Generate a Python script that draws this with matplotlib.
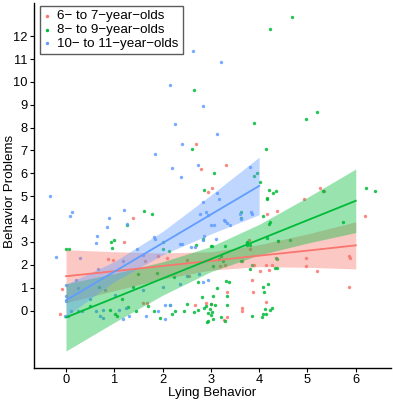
import numpy as np
import matplotlib.pyplot as plt

plt.rcParams['font.family'] = ['Liberation Sans', 'DejaVu Sans']

########## Data ##########
groups = ["6\u2212 to 7\u2212year\u2212olds", "8\u2212 to 9\u2212year\u2212olds", "10\u2212 to 11\u2212year\u2212olds"]
colors = ["#F8766D", "#00BA38", "#619CFF"]

# 6- to 7-year-olds (lying, problems)
red_x = [2.69, 3.31, 2.79, 3.02, 2.95, 5.25, 4.93, 5.35, 1.39, 1.21, 0.86, 0.98, 1.64, -0.09, -0.12,
         1.60, 1.67, 4.98, 4.96, 5.19, 5.85, 5.89, 5.86, 6.19, 4.36, 4.16, 4.21, 4.14, 4.02, 3.85,
         3.88, 4.14, 3.64, 3.64, 3.79, 3.34, 3.27, 3.34, 3.19, 2.67, 3.00, 2.90, 3.80, 3.30, 3.89,
         4.26, 2.10, 2.50, 1.90, 2.55]
red_y = [7.27, 6.35, 6.17, 5.34, 5.18, 5.37, 4.89, 5.22, 4.04, 2.98, 2.25, 2.19, 2.17, 0.94, -0.14,
         0.32, 0.32, 2.30, 1.96, 1.75, 2.40, 2.30, 1.03, 4.12, 4.34, 4.23, 1.79, 2.00, 1.73, 1.35,
         0.83, 0.39, 0.10, 0.00, 3.10, 0.83, -0.41, -0.29, 1.96, 0.25, 0.30, 0.33, 2.70, 2.00, 2.00,
         2.00, 2.30, 2.20, 2.40, 1.50]

# 8- to 9-year-olds
green_x = [4.69, 4.23, 2.66, 3.89, 2.61, 4.14, 3.06, 3.89, 3.96, 4.02, 2.86, 4.21, 4.29, 4.34, 4.17,
           4.97, 5.19, 6.22, 6.39, 5.33, 1.62, 1.79, 1.26, 0.93, 1.00, 0.00, 0.06, 0.95, 2.01, 1.88,
           0.68, 1.38, 2.23, 0.91, 1.01, 1.05, 1.29, 1.83, 1.95, 2.20, 2.26, 2.15, 5.73, 4.64, 4.38,
           4.20, 4.22, 4.07, 4.17, 4.35, 4.36, 3.82, 3.86, 3.63, 4.07, 4.09, 4.19, 4.26, 4.22, 4.12,
           4.07, 4.14, 4.05, 3.86, 3.74, 3.74, 3.80, 3.31, 3.38, 3.33, 3.34, 3.12, 3.05, 3.05, 3.17,
           3.00, 2.74, 2.81, 2.73, 2.65, 2.85, 2.90, 2.95, 2.98, 3.00, 3.03, 3.05, 2.95, 2.92, 3.08,
           3.00, 3.20, 3.30, 3.62, 3.62, 3.75, 4.16, 4.39, 3.29, 3.02, 3.65, 3.26, 3.20, 4.36, 4.33,
           2.14, 2.70, 2.83, 2.00, 1.50, 0.50, 1.15, 1.45, 1.70, 2.45, 2.50]
green_y = [12.85, 12.31, 9.64, 8.19, 7.05, 7.05, 6.00, 5.88, 6.03, 5.61, 5.29, 5.26, 5.15, 5.22, 4.89,
           8.36, 8.67, 5.37, 5.22, 5.22, 4.34, 4.21, 3.72, 3.00, 3.10, 2.69, 2.69, 2.74, 2.69, 1.64,
           1.03, 1.03, 1.45, 0.03, -0.15, -0.26, 0.17, 0.00, -0.31, -0.13, -0.03, 0.25, 3.88, 3.10, 3.03,
           3.79, 3.86, 4.12, 4.90, 2.30, 1.84, 1.83, 2.00, 2.15, 1.05, 0.83, 1.16, 0.10, 0.03, 0.07,
           -0.14, -0.14, -0.30, -0.26, 2.88, 2.96, 2.88, 1.27, 1.23, 0.64, 0.25, 0.98, 0.64, 1.93, 2.25,
           2.81, 1.23, 0.61, 0.02, -0.06, 0.10, 0.20, -0.10, 0.05, -0.20, -0.05, -0.35, -0.45, -0.50, 0.25,
           0.30, -0.30, -0.45, 4.30, 4.05, 2.98, 3.18, 3.03, 2.81, 2.81, 2.15, 2.15, 2.40, 2.25, 1.86,
           2.59, 2.88, 3.13, 3.00, 1.60, 0.20, 0.50, 0.00, 0.20, 0.00, 0.30]

# 10- to 11-year-olds
blue_x = [2.64, 3.21, 2.15, 2.84, 2.25, 3.13, 2.40, 1.84, 2.73, 2.20, 3.81, 2.38, 3.13, -0.33,
          0.12, 0.08, 1.21, 0.89, 0.85, 1.26, 0.65, 0.63, 1.82, 1.85, -0.21, 0.29, 1.48, 1.60, 2.41,
          1.19, 0.67, 0.20, 0.24, 0.81, 2.01, 2.36, 0.00, 1.02, 1.60, -0.03, 0.04, 0.11, 0.24, 0.34,
          0.77, 0.63, 0.77, 0.70, 1.10, 1.24, 1.19, 1.31, 1.65, 2.05, 2.05, 2.15, 2.84, 2.95, 2.90,
          3.00, 3.16, 3.30, 3.40, 3.61, 3.63, 3.85, 2.77, 2.84, 3.10, 2.67, 2.59, 2.37, 2.86, 2.95,
          2.84, 3.06, 3.27, 3.34, 3.84, 0.00, 0.00, 0.50, 1.90, 2.50, 2.75]
blue_y = [11.35, 10.89, 9.86, 8.96, 8.16, 7.72, 7.27, 6.84, 6.38, 6.24, 6.27, 5.83, 5.12, 5.03,
          4.30, 4.15, 4.39, 4.05, 3.66, 3.79, 3.25, 2.96, 3.20, 3.13, 2.34, 2.30, 2.69, 2.44, 2.91,
          2.15, 1.82, 1.35, 0.97, 0.91, 1.05, 1.16, 0.64, 0.70, 0.91, -0.23, -0.23, 0.00, 0.00, 0.00,
          0.03, -0.03, -0.32, -0.26, 0.02, 0.10, -0.38, -0.23, -0.23, -0.38, 0.23, 0.23, 4.74, 4.20, 4.30,
          3.75, 4.86, 3.90, 3.75, 4.24, 4.00, 4.24, 4.24, 3.10, 3.13, 2.80, 2.76, 2.91, 3.28, 1.35,
          1.26, 3.76, 3.95, 3.83, 4.30, 1.10, 0.40, 0.50, 0.00, 1.50, 1.60]

# fitted lines with 95% bands, read at whole lying scores
red_fit_x = [0, 1, 2, 3, 4, 5, 6]
red_fit = [1.50, 1.72, 1.95, 2.17, 2.40, 2.62, 2.85]
red_lo = [0.34, 0.87, 1.38, 1.77, 1.92, 1.89, 1.82]
red_hi = [2.66, 2.57, 2.52, 2.57, 2.88, 3.35, 3.88]

green_fit_x = [0, 1, 2, 3, 4, 5, 6]
green_fit = [-0.30, 0.55, 1.40, 2.25, 3.10, 3.95, 4.80]
green_lo = [-1.77, -0.52, 0.67, 1.70, 2.43, 2.95, 3.41]
green_hi = [1.17, 1.62, 2.13, 2.80, 3.77, 4.95, 6.19]

blue_fit_x = [0, 1, 2, 3, 4]
blue_fit = [0.45, 1.70, 2.95, 4.20, 5.45]
blue_lo = [-0.25, 1.26, 2.44, 3.35, 4.19]
blue_hi = [1.15, 2.14, 3.46, 5.05, 6.71]

points = [(red_x, red_y), (green_x, green_y), (blue_x, blue_y)]
fits = [(red_fit_x, red_fit, red_lo, red_hi),
        (green_fit_x, green_fit, green_lo, green_hi),
        (blue_fit_x, blue_fit, blue_lo, blue_hi)]

########## Plot ##########
fs = 9.6
fig = plt.figure(figsize=(3.93, 4.0), dpi=100)
ax = fig.add_axes([34/393, 32.3/400, (391-34)/393, (397-32.3)/400])

for (px, py), c, lab in zip(points, colors, groups):
    ax.scatter(px, py, s=6, color=c, alpha=0.85, linewidths=0, label=lab, zorder=2)

for (fx, fy, lo, hi), c in zip(fits, colors):
    ax.fill_between(fx, lo, hi, color=c, alpha=0.4, linewidth=0, zorder=3)
    ax.plot(fx, fy, color=c, lw=1.3, zorder=4)

ax.set_xlim(-0.663, 6.73)
ax.set_ylim(-2.5, 13.45)
ax.set_xticks(range(0, 7))
ax.set_yticks(range(0, 13))
ax.spines['top'].set_visible(False)
ax.spines['right'].set_visible(False)
ax.spines['left'].set_linewidth(1.0)
ax.spines['bottom'].set_linewidth(1.0)
ax.tick_params(labelsize=9.3, length=3, width=0.8, pad=1.5)
ax.set_xlabel("Lying Behavior", fontsize=fs, labelpad=1)
ax.set_ylabel("Behavior Problems", fontsize=fs)
ax.yaxis.set_label_coords(16/393, 1 - 191/400, transform=fig.transFigure)

leg = ax.legend(loc='upper left', bbox_to_anchor=(40/393, 1-6/400), bbox_transform=fig.transFigure,
                borderaxespad=0, fontsize=fs, markerscale=1.0, handlelength=0.5, handletextpad=0.5,
                labelspacing=0.1, borderpad=0.3, frameon=True, fancybox=False)
leg.get_frame().set_edgecolor('#333333')
leg.get_frame().set_linewidth(1.0)
for h in leg.legend_handles:
    h.set_alpha(1)

fig.savefig("out.png", dpi=100)
